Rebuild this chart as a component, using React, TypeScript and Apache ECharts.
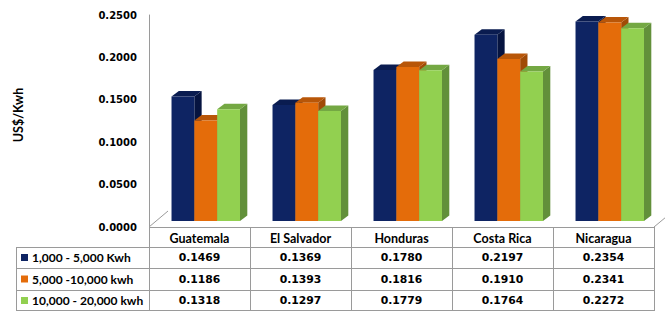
import React, { useEffect, useRef } from "react";
import * as echarts from "echarts";

const categories = ["Guatemala", "El Salvador", "Honduras", "Costa Rica", "Nicaragua"];
const seriesNames = ["1,000 - 5,000 Kwh", "5,000 -10,000 kwh", "10,000 - 20,000 kwh"];
const tier1 = [0.1469, 0.1369, 0.178, 0.2197, 0.2354];
const tier2 = [0.1186, 0.1393, 0.1816, 0.191, 0.2341];
const tier3 = [0.1318, 0.1297, 0.1779, 0.1764, 0.2272];
const seriesValues = [tier1, tier2, tier3];
const yMin = 0;
const yMax = 0.25;
const yInterval = 0.05;
const yAxisName = "US$/Kwh";

const palette = [
  { front: "#0E2463", top: "#0A1C50", side: "#061440" },
  { front: "#E46C0A", top: "#B85608", side: "#A04B07" },
  { front: "#92D050", top: "#74A843", side: "#62903A" },
];

const W = 665;
const H = 311;
const gridLeft = 149;
const gridRightX = 654;
const gridTop = 15;
const gridBottomY = 227;
const band = (gridRightX - gridLeft) / categories.length;
const rowY = [227, 247, 268, 290, 311];
const tableLeft = 16;
const lineColor = "#9A9A9A";
const labelFont = "Lato, 'Open Sans', sans-serif";
const numFont = "'DejaVu Sans', Verdana, sans-serif";

function makeRender(si: number) {
  return (params: any, api: any) => {
    const ci = api.value(0);
    const v = api.value(1);
    const base = api.coord([ci, 0]);
    const top = api.coord([ci, v]);
    const bw = api.size([1, 0])[0];
    const w = bw * 0.226;
    const x0 = base[0] - bw / 2 + bw * 0.223 + si * w;
    const yb = base[1] - 6;
    const yt = top[1] - 6;
    const dx = 7.3;
    const dy = -5.5;
    const c = palette[si];
    return {
      type: "group",
      children: [
        {
          type: "polygon",
          shape: { points: [[x0 + w, yb], [x0 + w + dx, yb + dy], [x0 + w + dx, yt + dy], [x0 + w, yt]] },
          style: { fill: c.side },
        },
        {
          type: "polygon",
          shape: { points: [[x0, yt], [x0 + dx, yt + dy], [x0 + w + dx, yt + dy], [x0 + w, yt]] },
          style: { fill: c.top },
        },
        {
          type: "rect",
          shape: { x: x0, y: yt, width: w, height: yb - yt },
          style: { fill: c.front },
        },
      ],
    };
  };
}

function buildTable(): any[] {
  const els: any[] = [];
  const line = (x1: number, y1: number, x2: number, y2: number) =>
    els.push({
      type: "line",
      shape: { x1, y1, x2, y2 },
      style: { stroke: lineColor, lineWidth: 1 },
      silent: true,
    });
  // floor
  line(gridLeft, gridBottomY, gridLeft + 19, gridBottomY - 16);
  line(gridRightX, gridBottomY, gridRightX + 12, gridBottomY - 10);
  // horizontal
  line(gridLeft, rowY[0] + 0.5, gridRightX, rowY[0] + 0.5);
  for (let r = 1; r < rowY.length; r++) {
    const y = Math.min(rowY[r], H - 1) + 0.5;
    line(tableLeft, y, gridRightX, y);
  }
  // vertical
  line(tableLeft + 0.5, rowY[1], tableLeft + 0.5, H);
  for (let c = 0; c <= categories.length; c++) {
    const x = Math.round(gridLeft + c * band) + 0.5;
    line(x, rowY[0], x, H);
  }
  // y axis name
  els.push({
    type: "text",
    x: 18,
    y: 115,
    rotation: Math.PI / 2,
    style: {
      text: yAxisName,
      fill: "#000",
      font: `bold 12.5px ${labelFont}`,
      align: "center",
      verticalAlign: "middle",
    },
  });
  // header
  categories.forEach((name, c) => {
    els.push({
      type: "text",
      x: gridLeft + (c + 0.5) * band,
      y: (rowY[0] + rowY[1]) / 2 + 1,
      style: {
        text: name,
        fill: "#000",
        font: `bold 12.5px ${labelFont}`,
        align: "center",
        verticalAlign: "middle",
      },
    });
  });
  seriesNames.forEach((name, s) => {
    const cy = (rowY[s + 1] + rowY[s + 2]) / 2;
    els.push({
      type: "rect",
      shape: { x: 21, y: cy - 3.5, width: 7, height: 7 },
      style: { fill: palette[s].front },
    });
    els.push({
      type: "text",
      x: 32,
      y: cy,
      style: {
        text: name,
        fill: "#000",
        font: `bold 12px ${labelFont}`,
        align: "left",
        verticalAlign: "middle",
      },
    });
    seriesValues[s].forEach((v, c) => {
      els.push({
        type: "text",
        x: gridLeft + (c + 0.5) * band,
        y: cy,
        style: {
          text: v.toFixed(4),
          fill: "#000",
          font: `bold 10.8px ${numFont}`,
          align: "center",
          verticalAlign: "middle",
        },
      });
    });
  });
  return els;
}

export default function App() {
  const ref = useRef<HTMLDivElement>(null);
  useEffect(() => {
    document.body.style.margin = "0";
    if (!ref.current) return;
    const chart = echarts.init(ref.current, null, { renderer: "svg" });
    chart.setOption({
      animation: false,
      backgroundColor: "#fff",
      grid: {
        left: gridLeft,
        top: gridTop,
        width: gridRightX - gridLeft,
        height: gridBottomY - gridTop,
      },
      xAxis: {
        type: "category",
        data: categories,
        axisLine: { show: false },
        axisTick: { show: false },
        axisLabel: { show: false },
        splitLine: { show: false },
      },
      yAxis: {
        type: "value",
        min: yMin,
        max: yMax,
        interval: yInterval,
        axisLine: { show: true, lineStyle: { color: lineColor, width: 1 } },
        axisTick: { show: false },
        splitLine: { show: false },
        axisLabel: {
          margin: 12,
          fontFamily: numFont,
          fontWeight: "bold",
          fontSize: 10,
          color: "#000",
          formatter: (v: number) => v.toFixed(4),
        },
      },
      series: seriesValues.map((vals, si) => ({
        type: "custom",
        name: seriesNames[si],
        renderItem: makeRender(si),
        encode: { x: 0, y: 1 },
        data: vals.map((v, i) => [i, v]),
        z: 2 + si,
      })),
      graphic: buildTable(),
    });
    return () => chart.dispose();
  }, []);
  return <div ref={ref} style={{ width: W, height: H, position: "absolute", left: 0, top: 0 }} />;
}
